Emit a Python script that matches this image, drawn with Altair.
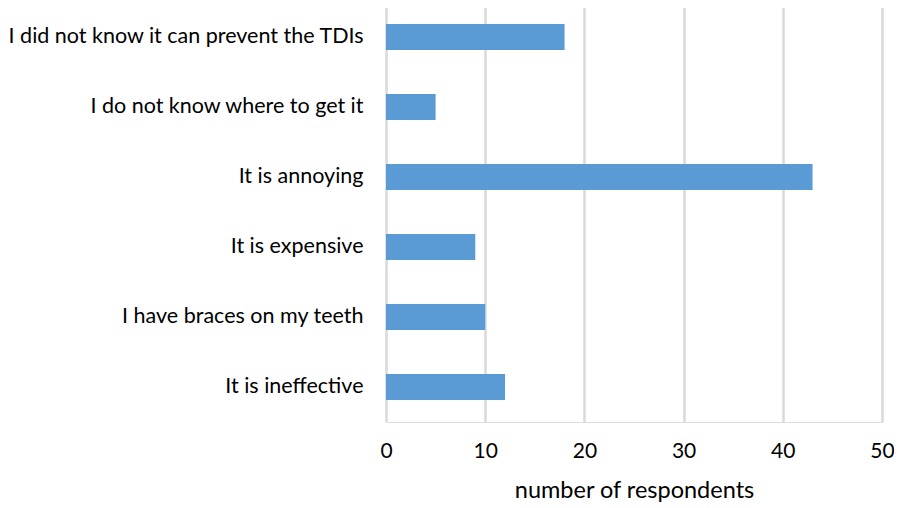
import altair as alt
import pandas as pd

reasons = [
    "I did not know it can prevent the TDIs ",
    "I do not know where to get it",
    "It is annoying ",
    "It is expensive",
    "I have braces on my teeth",
    "It is ineffective",
]
counts = [18, 5, 43, 9, 10, 12]

df = pd.DataFrame({"reason": reasons, "count": counts})

FONT = "Lato"

chart = (
    alt.Chart(df)
    .mark_bar(color="#5b9bd5")
    .encode(
        x=alt.X(
            "count:Q",
            scale=alt.Scale(domain=[0, 50], nice=False),
            axis=alt.Axis(
                values=[0, 10, 20, 30, 40, 50],
                title="number of respondents",
                titleFont=FONT,
                titleFontSize=23.5,
                titleFontWeight="normal",
                titleColor="#000000",
                titlePadding=17,
                labelFont=FONT,
                labelFontSize=21,
                labelColor="#000000",
                labelPadding=18,
                labelFlush=False,
                domain=False,
                ticks=False,
                grid=True,
                gridColor="#d9d9d9",
                gridWidth=2.5,
            ),
        ),
        y=alt.Y(
            "reason:N",
            sort=reasons,
            scale=alt.Scale(paddingInner=0.63, paddingOuter=0.315),
            axis=alt.Axis(
                title=None,
                labelFont=FONT,
                labelFontSize=21.5,
                labelColor="#000000",
                labelPadding=23,
                labelLimit=400,
                domain=False,
                ticks=False,
                grid=False,
            ),
        ),
    )
    .properties(
        width=496,
        height=420,
        autosize=alt.AutoSizeParams(type="none"),
        padding={"left": 378, "top": -6, "right": 12, "bottom": 80},
    )
    .configure_view(stroke=None)
    .configure(background="white")
)

chart.save("out.html", embed_options={"renderer": "svg", "actions": False})
